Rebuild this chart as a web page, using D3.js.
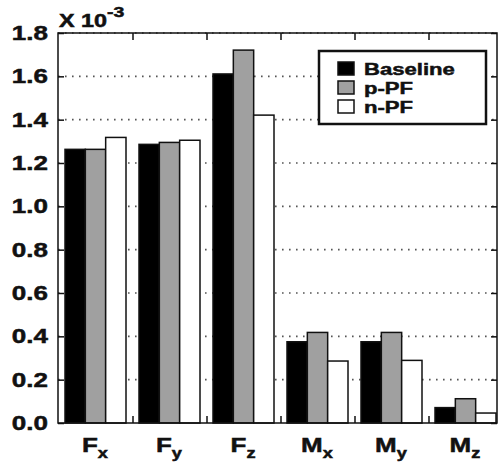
<!DOCTYPE html>
<html>
<head>
<meta charset="utf-8">
<script src="https://cdn.jsdelivr.net/npm/d3@7"></script>
<style>
  body { margin: 0; background: #fff; }
  svg text { font-family: "Liberation Sans", Arial, sans-serif; font-weight: bold; fill: #111; stroke: #111; stroke-width: 0.5px; }
</style>
</head>
<body>
<div id="chart"></div>
<script>
// categories: main letter + subscript
var categories = ["Fx", "Fy", "Fz", "Mx", "My", "Mz"];
var catMain = ["F", "F", "F", "M", "M", "M"];
var catSub = ["x", "y", "z", "x", "y", "z"];

var seriesNames = ["Baseline", "p-PF", "n-PF"];
var seriesColors = ["#000000", "#a0a0a0", "#ffffff"];

// values in units of 1e-3
var baseline = [1.263, 1.286, 1.611, 0.375, 0.375, 0.071];
var pPF = [1.263, 1.295, 1.721, 0.418, 0.418, 0.112];
var nPF = [1.318, 1.305, 1.421, 0.286, 0.289, 0.046];

var yTicks = [0.0, 0.2, 0.4, 0.6, 0.8, 1.0, 1.2, 1.4, 1.6, 1.8];

var width = 500;
var height = 465;
var SX = 1.3; // horizontal stretch of the lettering

var plotLeft = 58, plotRight = 497, plotTop = 33, plotBottom = 423;

var svg = d3.select("#chart")
    .append("svg").attr("width", width).attr("height", height);

var y = d3.scaleLinear().domain([0, 1.8]).range([plotBottom, plotTop]);
var x = d3.scaleBand().domain(categories).range([59, 503]).paddingInner(0).paddingOuter(0);
var xs = d3.scaleBand().domain(seriesNames).range([6, 67]);

var allSeries = [baseline, pPF, nPF];

// dotted grid
svg.append("g")
    .selectAll("line")
    .data(yTicks.filter(function (d) { return d > 0; }))
    .enter().append("line")
    .attr("x1", plotLeft).attr("x2", plotRight)
    .attr("y1", function (d) { return y(d); })
    .attr("y2", function (d) { return y(d); })
    .attr("stroke", "#555")
    .attr("stroke-width", 1.6)
    .attr("stroke-dasharray", "1.6,5.4");

// bars
var groups = svg.append("g").selectAll("g")
    .data(categories)
    .enter().append("g")
    .attr("transform", function (d) { return "translate(" + x(d) + ",0)"; });

groups.selectAll("rect")
    .data(function (d, i) {
        return seriesNames.map(function (s, j) { return { s: s, j: j, v: allSeries[j][i] }; });
    })
    .enter().append("rect")
    .attr("x", function (d) { return xs(d.s); })
    .attr("width", xs.bandwidth())
    .attr("y", function (d) { return y(d.v); })
    .attr("height", function (d) { return y(0) - y(d.v); })
    .attr("fill", function (d) { return seriesColors[d.j]; })
    .attr("stroke", "#111")
    .attr("stroke-width", 1.5);

// axes: ticks pointing inward on all four sides
var yLeft = d3.axisRight(y).tickValues(yTicks).tickSize(6).tickFormat("");
var yRight = d3.axisLeft(y).tickValues(yTicks).tickSize(6).tickFormat("");
svg.append("g").attr("transform", "translate(" + plotLeft + ",0)").call(yLeft);
svg.append("g").attr("transform", "translate(" + plotRight + ",0)").call(yRight);

var xBounds = categories.slice(1);
var xTop = d3.axisBottom(x).tickValues(xBounds).tickSize(7).tickFormat("").offset(0);
var xBottom = d3.axisTop(x).tickValues(xBounds).tickSize(7).tickFormat("").offset(0);
svg.append("g").attr("class", "xt").attr("transform", "translate(0," + plotTop + ")").call(xTop);
svg.append("g").attr("class", "xb").attr("transform", "translate(0," + plotBottom + ")").call(xBottom);
// put x ticks on band boundaries instead of centres
svg.selectAll(".xt .tick, .xb .tick").attr("transform", function (d) { return "translate(" + x(d) + ",0)"; });
svg.selectAll(".domain").remove();
svg.selectAll(".tick line").attr("stroke", "#111").attr("stroke-width", 1.5);

// frame
svg.append("rect")
    .attr("x", plotLeft).attr("y", plotTop)
    .attr("width", plotRight - plotLeft).attr("height", plotBottom - plotTop)
    .attr("fill", "none").attr("stroke", "#111").attr("stroke-width", 1.5);

// y tick labels
svg.append("g").selectAll("text")
    .data(yTicks)
    .enter().append("text")
    .attr("transform", function (d) { return "translate(48," + (y(d) + 7) + ") scale(" + SX + ",1)"; })
    .attr("text-anchor", "end")
    .style("font-size", "20px")
    .text(function (d) { return d.toFixed(1); });

// exponent label
var expo = svg.append("text")
    .attr("transform", "translate(59,27) scale(" + SX + ",1)")
    .style("font-size", "18px");
expo.append("tspan").text("X 10");
expo.append("tspan").attr("dy", -10).style("font-size", "15px").text("-3");

// x labels
var xl = svg.append("g").selectAll("text")
    .data(categories)
    .enter().append("text")
    .attr("transform", function (d) { return "translate(" + (x(d) + x.bandwidth() / 2 - 1) + ",452) scale(" + SX + ",1)"; })
    .attr("text-anchor", "middle")
    .style("font-size", "20px");
xl.append("tspan").text(function (d, i) { return catMain[i]; });
xl.append("tspan").attr("dy", 6).style("font-size", "14px").text(function (d, i) { return catSub[i]; });

// legend
var legend = svg.append("g");
legend.append("rect")
    .attr("x", 319).attr("y", 51).attr("width", 167).attr("height", 73)
    .attr("fill", "#fff").attr("stroke", "#111").attr("stroke-width", 2.5);

var items = legend.selectAll("g.item")
    .data(seriesNames)
    .enter().append("g").attr("class", "item")
    .attr("transform", function (d, i) { return "translate(338," + (62 + i * 19) + ")"; });
items.append("rect")
    .attr("width", 16).attr("height", 13)
    .attr("fill", function (d, i) { return seriesColors[i]; })
    .attr("stroke", "#111").attr("stroke-width", 1.5);
items.append("text")
    .attr("transform", "translate(26,13) scale(" + SX + ",1)")
    .style("font-size", "17px")
    .text(function (d) { return d; });
</script>
</body>
</html>
